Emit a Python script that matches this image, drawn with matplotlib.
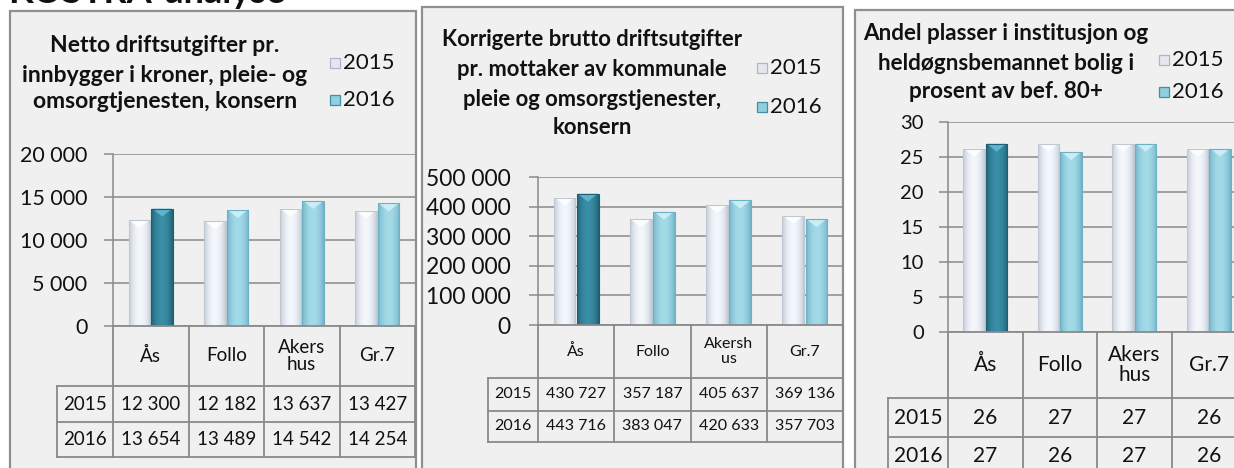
"""
Three KOSTRA style panels (bar + data table) for pleie og omsorg, 2015 vs 2016.
"""
import matplotlib
import matplotlib.pyplot as plt
import numpy as np
from matplotlib.patches import Rectangle, Polygon
from matplotlib.colors import to_rgb

matplotlib.use("Agg")

W, H = 1234, 468

YEARS = ["2015", "2016"]
CATS_NETTO = ["Ås", "Follo", "Akers\nhus", "Gr.7"]
CATS_BRUTTO = ["Ås", "Follo", "Akersh\nus", "Gr.7"]
CATS_ANDEL = ["Ås", "Follo", "Akers\nhus", "Gr.7"]

NETTO_2015 = [12300, 12182, 13637, 13427]
NETTO_2016 = [13654, 13489, 14542, 14254]
BRUTTO_2015 = [430727, 357187, 405637, 369136]
BRUTTO_2016 = [443716, 383047, 420633, 357703]
ANDEL_2015 = [26.2, 26.9, 26.9, 26.2]
ANDEL_2016 = [26.9, 25.7, 26.9, 26.2]

TITLE_NETTO = ["Netto driftsutgifter pr.", "innbygger i kroner, pleie- og",
               "omsorgtjenesten, konsern"]
TITLE_BRUTTO = ["Korrigerte brutto driftsutgifter", "pr. mottaker av kommunale",
                "pleie og omsorgstjenester,", "konsern"]
TITLE_ANDEL = ["Andel plasser i institusjon og", "heldøgnsbemannet bolig i",
               "prosent av bef. 80+"]

plt.rcParams["font.family"] = ["Lato", "DejaVu Sans"]

BG = "#F0F0F0"
BORDER = "#8F8F8F"
GRID = "#8A8A8A"
TEXT = "#111111"

# (edge, centre, chevron)
LIGHT = ("#BFC7D3", "#F3F6FB", "#FFFFFF")
CYAN = ("#6DB1C5", "#A3DAE8", "#D3F1F8")
TEAL = ("#1D5F72", "#3A8EA6", "#63BDD5")


def fx(x):
    return x / W


def fy(y):
    return 1 - y / H


def box(x0, y0, x1, y1):
    return [x0 / W, 1 - y1 / H, (x1 - x0) / W, (y1 - y0) / H]


def space_fmt(v):
    return f"{v:,.0f}".replace(",", " ")


def gradient(colors, n=64):
    edge = np.array(to_rgb(colors[0]))
    centre = np.array(to_rgb(colors[1]))
    t = np.linspace(0, 1, n)
    w = np.sin(np.pi * t) ** 0.7
    return edge + (centre - edge) * w[:, None]


def shade_bars(ax, bars, palettes, chev_h):
    for patch, pal in zip(bars, palettes):
        x, w, h = patch.get_x(), patch.get_width(), patch.get_height()
        img = ax.imshow(gradient(pal)[None, :, :], extent=(x, x + w, 0, h),
                        aspect="auto", zorder=3, interpolation="bilinear")
        img.set_clip_path(patch)
        ax.add_patch(Polygon([(x + 0.01, h), (x + w - 0.01, h), (x + w / 2, h - chev_h)],
                             closed=True, fc=pal[2], ec="none", alpha=0.85, zorder=4))
        ax.add_patch(Rectangle((x, 0), w, h, fc="none", ec=pal[0], lw=0.8, zorder=5))


def panel(fig, p):
    # frame
    fx0, fy0, fx1, fy1 = p["frame"]
    fig.add_artist(Rectangle((fx(fx0), fy(fy1)), (fx1 - fx0) / W, (fy1 - fy0) / H,
                             transform=fig.transFigure, fc=BG, ec=BORDER, lw=1.6, zorder=0))

    # title
    for line, y in zip(p["title"], p["title_y"]):
        fig.text(fx(p["title_x"]), fy(y), line, ha="center", va="center",
                 fontsize=p["title_size"], fontweight="bold", color=TEXT)

    # legend
    for i, y in enumerate(p["legend_y"]):
        pal = ("#B0B7C2", "#E4E8EE", "#FFFFFF") if i == 0 else ("#3F8FA6", "#8FCFDF", "#D3F1F8")
        s = 10
        mx = p["legend_x"]
        fig.add_artist(Rectangle((fx(mx - s / 2), fy(y + s / 2)), s / W, s / H,
                                 transform=fig.transFigure, fc=pal[1], ec=pal[0], lw=0.9))
        fig.text(fx(mx + 8), fy(y), YEARS[i], ha="left", va="center",
                 fontsize=p["legend_size"], color=TEXT)

    # bar area
    x0, ytop, x1, yzero = p["plot"]
    ax = fig.add_axes(box(x0, ytop, x1, yzero))
    ax.patch.set_visible(False)
    n = len(p["cats"])
    x = np.arange(n)
    bw, off = 0.285, 0.152
    b15 = ax.bar(x - off, p["v15"], bw, color=LIGHT[1], zorder=2)
    b16 = ax.bar(x + off, p["v16"], bw, color=CYAN[1], zorder=2)
    ymax = p["yticks"][-1]
    chev = 8 / (yzero - ytop) * ymax
    shade_bars(ax, b15, [LIGHT] * n, chev)
    shade_bars(ax, b16, [TEAL] + [CYAN] * (n - 1), chev)
    ax.set_xlim(-0.5, n - 0.5)
    ax.set_ylim(0, ymax)
    ax.set_yticks(p["yticks"])
    ax.set_yticklabels([p["tick_fmt"](v) for v in p["yticks"]])
    ax.tick_params(axis="y", length=6.5, width=1.1, color=GRID, pad=p["tick_pad"],
                   labelsize=p["tick_size"], labelcolor=TEXT)
    ax.set_xticks([])
    for side in ["top", "right", "bottom"]:
        ax.spines[side].set_visible(False)
    ax.spines["left"].set_color(GRID)
    ax.spines["left"].set_linewidth(1.1)
    ax.grid(axis="y", color=GRID, lw=1.1, zorder=1)
    ax.set_axisbelow(True)

    # data table
    lab_x = p["label_x"]
    hdr, r1, r2 = p["rows"]
    tab = fig.add_axes(box(lab_x, yzero, x1, r2))
    tab.set_axis_off()
    unit = (x1 - x0) / n
    left = -0.5 - (x0 - lab_x) / unit
    tab.set_xlim(left, n - 0.5)
    tab.set_ylim(r2, yzero)
    kw = dict(color=GRID, lw=1.3, clip_on=False)
    tab.plot([-0.5, n - 0.5], [yzero, yzero], **kw)
    for xv in np.arange(n + 1) - 0.5:
        tab.plot([xv, xv], [yzero, r2], **kw)
    tab.plot([left, left], [hdr, r2], **kw)
    for yv in (hdr, r1, r2):
        tab.plot([left, n - 0.5], [yv, yv], **kw)
    for i, c in enumerate(p["cats"]):
        tab.text(i, (yzero + hdr) / 2, c, ha="center", va="center",
                 fontsize=p["cat_size"], color=TEXT, linespacing=1.05)
    for (ya, yb), yr, vals in zip([(hdr, r1), (r1, r2)], YEARS, [p["v15"], p["v16"]]):
        yc = (ya + yb) / 2
        tab.text((left - 0.5) / 2, yc, yr, ha="center", va="center",
                 fontsize=p["table_size"], color=TEXT)
        for i, v in enumerate(vals):
            tab.text(i, yc, p["table_fmt"](v), ha="center", va="center",
                     fontsize=p["table_size"], color=TEXT)


fig = plt.figure(figsize=(W / 100, H / 100), dpi=100)
fig.patch.set_facecolor("white")

# heading above the panels, cut by the top edge as in the page screenshot
fig.text(fx(8), fy(3), "KOSTRA-analyse", ha="left", va="baseline",
         fontsize=26, fontweight="bold", color=TEXT)

panel(fig, dict(
    frame=(10, 11, 416, 520), title=TITLE_NETTO, title_x=165, title_y=[45, 75, 102],
    title_size=16.5, legend_x=335, legend_y=[63, 100], legend_size=16,
    plot=(113, 154, 415, 326), cats=CATS_NETTO, v15=NETTO_2015, v16=NETTO_2016,
    yticks=[0, 5000, 10000, 15000, 20000], tick_fmt=space_fmt, tick_size=15.5,
    tick_pad=12, label_x=57, rows=(386, 422, 457), cat_size=13.5, table_size=13.5,
    table_fmt=space_fmt))

panel(fig, dict(
    frame=(422, 7, 843, 520), title=TITLE_BRUTTO, title_x=592, title_y=[40, 70, 100, 128],
    title_size=15.8, legend_x=762, legend_y=[68, 107], legend_size=16,
    plot=(538, 177, 843, 325), cats=CATS_BRUTTO, v15=BRUTTO_2015, v16=BRUTTO_2016,
    yticks=[0, 100000, 200000, 300000, 400000, 500000], tick_fmt=space_fmt, tick_size=16.5,
    tick_pad=13, label_x=488, rows=(378, 411, 442), cat_size=11.5, table_size=11.5,
    table_fmt=space_fmt))

panel(fig, dict(
    frame=(855, 10, 1270, 520), title=TITLE_ANDEL, title_x=1006, title_y=[33, 63, 92],
    title_size=16.2, legend_x=1164, legend_y=[60, 92], legend_size=16,
    plot=(948, 122, 1246, 332), cats=CATS_ANDEL, v15=ANDEL_2015, v16=ANDEL_2016,
    yticks=[0, 5, 10, 15, 20, 25, 30], tick_fmt=lambda v: f"{v:.0f}", tick_size=14.5,
    tick_pad=11, label_x=888, rows=(398, 437, 476), cat_size=15, table_size=15,
    table_fmt=lambda v: f"{v:.0f}"))

fig.savefig("out.png", dpi=100)
